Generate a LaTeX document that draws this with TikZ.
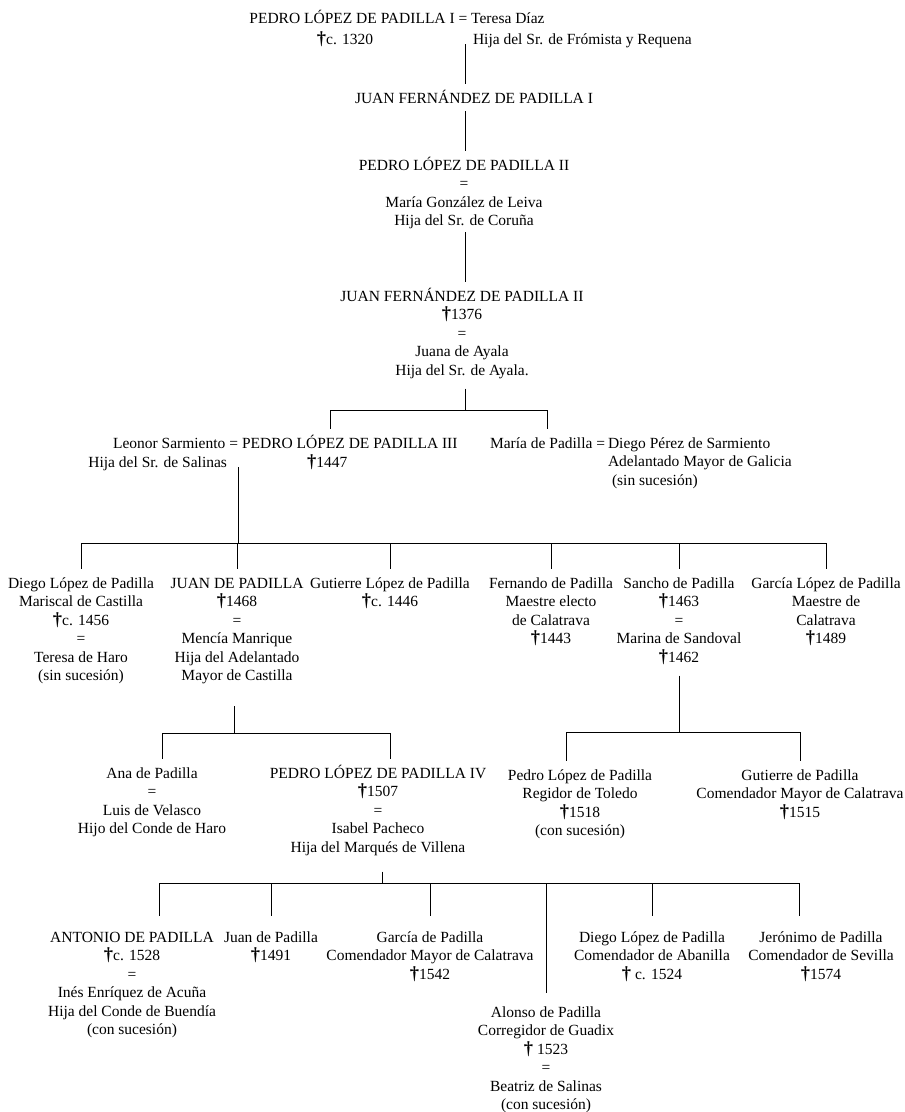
\documentclass[tikz,border=0pt]{standalone}
\usepackage{fontspec}
\setmainfont{Liberation Serif}
\newcommand{\obiit}{{\fontsize{18.5pt}{18.5pt}\selectfont\bfseries †}}
\newcommand{\who}[2][c]{\begin{tabular}[t]{@{}#1@{}}#2\end{tabular}}
\begin{document}
\begin{tikzpicture}[x=1pt, y=-1pt,
        person/.style={inner sep=0pt, outer xsep=0pt, outer ysep=8pt, text height=11pt, font=\fontsize{15.5pt}{18.5pt}\selectfont},
        late/.style={person, outer ysep=15pt},
        line/.style={line width=0.8pt}]
                \useasboundingbox (0,0) rectangle (905,1112);
                \coordinate (spine) at (465,0);
                \node[person, anchor=base] (pedroI) at (397,23) {PEDRO LÓPEZ DE PADILLA I = Teresa Díaz};
                \node[person, anchor=base] (pedroIobit) at (345,44) {\obiit c. 1320};
                \node[person, anchor=base west] (teresa) at (473,44) {Hija del Sr. de Frómista y Requena};
                \node[person, anchor=base] (juanI) at (474,103) {JUAN FERNÁNDEZ DE PADILLA I};
                \node[person, anchor=base] (pedroII) at (464,170) {\who{PEDRO LÓPEZ DE PADILLA II\\=\\María González de Leiva\\Hija del Sr. de Coruña}};
                \node[person, anchor=base] (juanII) at (462,301) {\who{JUAN FERNÁNDEZ DE PADILLA II\\\obiit1376\\=\\Juana de Ayala\\Hija del Sr. de Ayala.}};
                \draw[line] (teresa.base -| spine) -- (juanI.north -| spine);
                \draw[line] (juanI.south -| spine) -- (pedroII.north -| spine);
                \draw[line] ([yshift=7pt]pedroII.south -| spine) -- (juanII.north -| spine);
                % hijos de Juan Fernández II
                \coordinate (famII) at (465,410);
                \node[person, anchor=base east] (leonor) at (238,448) {Leonor Sarmiento =};
                \node[person, anchor=base west] (pedroIII) at (242,448) {PEDRO LÓPEZ DE PADILLA III};
                \node[person, anchor=base east] (salinas) at (227,467) {Hija del Sr. de Salinas};
                \node[person, anchor=base west] (pedroIIIobit) at (307,467) {\obiit1447};
                \node[person, anchor=base west] (maria) at (490,448) {María de Padilla =};
                \node[person, anchor=base west] (diegoPS) at (608,448) {\who[l]{Diego Pérez de Sarmiento\\Adelantado Mayor de Galicia}};
                \node[person, anchor=base west] (sinsucII) at (612,485) {(sin sucesión)};
                \draw[line] (juanII.south -| famII) -- (famII);
                \draw[line] (famII) -| ([xshift=-19pt]pedroIII.north);
                \draw[line] (famII) -| (maria.north);
                % hijos de Pedro López III
                \coordinate (famIII) at (238,543);
                \node[person, anchor=base] (diegoLP) at (81,588) {\who{Diego López de Padilla\\Mariscal de Castilla\\\obiit c. 1456\\=\\Teresa de Haro\\(sin sucesión)}};
                \node[person, anchor=base] (juanP) at (237,588) {\who{JUAN DE PADILLA\\\obiit1468\\=\\Mencía Manrique\\Hija del Adelantado\\Mayor de Castilla}};
                \node[person, anchor=base] (gutierreLP) at (390,588) {\who{Gutierre López de Padilla\\\obiit c. 1446}};
                \node[person, anchor=base] (fernando) at (551,588) {\who{Fernando de Padilla\\Maestre electo\\de Calatrava\\\obiit1443}};
                \node[person, anchor=base] (sancho) at (679,588) {\who{Sancho de Padilla\\\obiit1463\\=\\Marina de Sandoval\\\obiit1462}};
                \node[person, anchor=base] (garcia) at (826,588) {\who{García López de Padilla\\Maestre de\\Calatrava\\\obiit1489}};
                \draw[line] (salinas.base -| famIII) -- (famIII);
                \foreach \k in {diegoLP,juanP,gutierreLP,fernando,sancho,garcia}
                    {
                        \draw[line] (famIII) -| (\k.north);
                    }
                % hijos de Juan y de Sancho
                \coordinate (famP) at (234,733);
                \coordinate (famS) at (679,732);
                \node[person, anchor=base] (ana) at (152,778) {\who{Ana de Padilla\\=\\Luis de Velasco\\Hijo del Conde de Haro}};
                \node[person, anchor=base] (pedroIV) at (378,778) {\who{PEDRO LÓPEZ DE PADILLA IV\\\obiit1507\\=\\Isabel Pacheco\\Hija del Marqués de Villena}};
                \node[person, anchor=base] (pedroLP) at (580,780) {\who{Pedro López de Padilla\\Regidor de Toledo\\\obiit1518\\(con sucesión)}};
                \node[person, anchor=base] (gutierreP) at (800,780) {\who{Gutierre de Padilla\\Comendador Mayor de Calatrava\\\obiit1515}};
                \draw[line] ([yshift=-12pt]juanP.south -| famP) -- (famP);
                \draw[line] (famP) -| ([xshift=10pt]ana.north);
                \draw[line] (famP) -| ([xshift=12pt]pedroIV.north);
                \draw[line] (sancho.south -| famS) -- (famS);
                \draw[line] (famS) -| ([xshift=-14pt]pedroLP.north);
                \draw[line] (famS) -| (gutierreP.north);
                % hijos de Pedro López IV
                \coordinate (famIV) at (382,883);
                \node[late, anchor=base] (antonio) at (132,942) {\who{ANTONIO DE PADILLA\\\obiit c. 1528\\=\\Inés Enríquez de Acuña\\Hija del Conde de Buendía\\(con sucesión)}};
                \node[late, anchor=base] (juanPb) at (271,942) {\who{Juan de Padilla\\\obiit1491}};
                \node[late, anchor=base] (garciaP) at (430,942) {\who{García de Padilla\\Comendador Mayor de Calatrava\\\obiit1542}};
                \node[person, anchor=base, outer ysep=13pt] (alonso) at (546,1017) {\who{Alonso de Padilla\\Corregidor de Guadix\\\obiit{} 1523\\=\\Beatriz de Salinas\\(con sucesión)}};
                \node[late, anchor=base] (diegoA) at (652,942) {\who{Diego López de Padilla\\Comendador de Abanilla\\\obiit{} c. 1524}};
                \node[late, anchor=base] (jeronimo) at (821,942) {\who{Jerónimo de Padilla\\Comendador de Sevilla\\\obiit1574}};
                \draw[line] ([yshift=-6pt]pedroIV.south -| famIV) -- (famIV);
                \foreach \k/\dx in {antonio/27,juanPb/0,garciaP/0,alonso/0,diegoA/0,jeronimo/-22}
                    {
                        \draw[line] (famIV) -| ([xshift=\dx pt]\k.north);
                    }
\end{tikzpicture}
\end{document}
